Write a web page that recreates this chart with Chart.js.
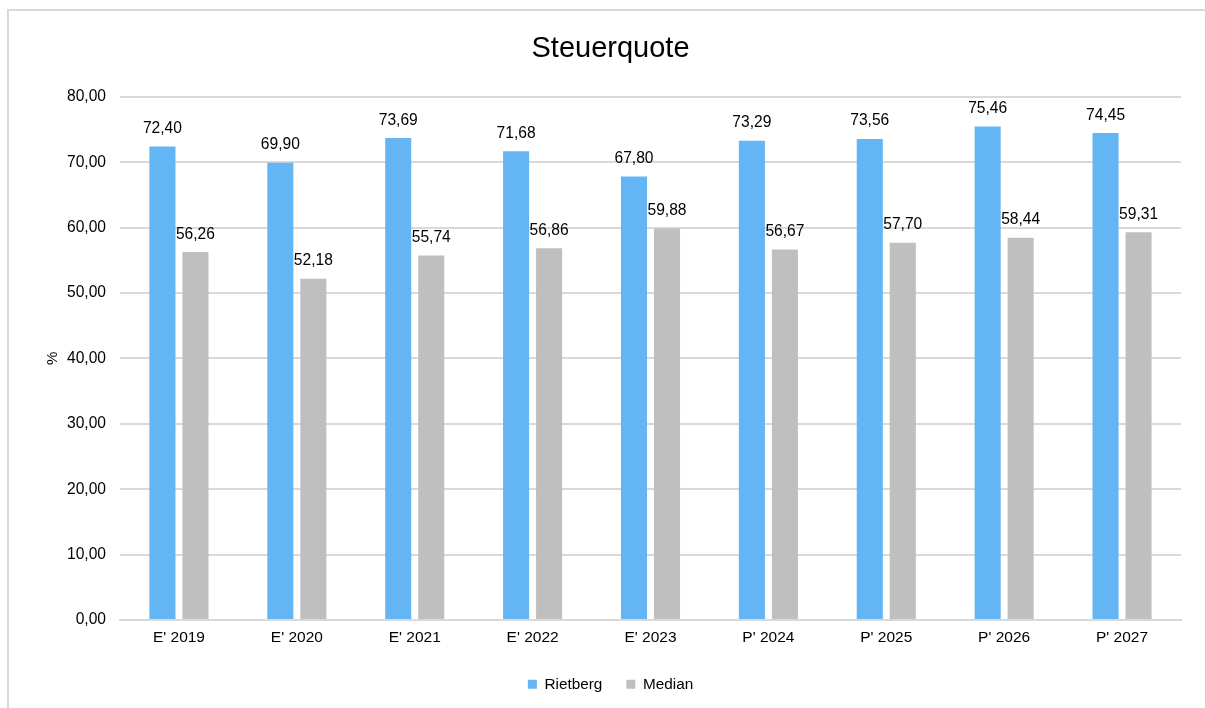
<!DOCTYPE html>
<html>
<head>
<meta charset="utf-8">
<script src="https://cdn.jsdelivr.net/npm/chart.js@4"></script>
<style>
  html, body { margin: 0; padding: 0; background: #fff; overflow: hidden; }
  #frame { position: absolute; left: 7px; top: 9px; width: 1210px; height: 720px; border: 2px solid #d9d9d9; box-sizing: border-box; }
  #wrap { position: absolute; left: 0; top: 0; width: 1205px; height: 708px; }
</style>
</head>
<body>
<div id="frame"></div>
<div id="wrap"><canvas id="barChart"></canvas></div>
<script>
const labels = ["E' 2019", "E' 2020", "E' 2021", "E' 2022", "E' 2023", "P' 2024", "P' 2025", "P' 2026", "P' 2027"];
const rietberg = [72.40, 69.90, 73.69, 71.68, 67.80, 73.29, 73.56, 75.46, 74.45];
const median = [56.26, 52.18, 55.74, 56.86, 59.88, 56.67, 57.70, 58.44, 59.31];

const fmt = v => v.toFixed(2).replace('.', ',');
const font = 'Liberation Sans, Arial, sans-serif';

// writes the value above every bar
const valueLabels = {
    id: 'valueLabels',
    afterDatasetsDraw(chart) {
        const ctx = chart.ctx;
        ctx.save();
        ctx.font = '15.6px ' + font;
        ctx.fillStyle = '#000';
        ctx.textAlign = 'center';
        ctx.textBaseline = 'bottom';
        chart.data.datasets.forEach((ds, i) => {
            chart.getDatasetMeta(i).data.forEach((bar, j) => {
                ctx.fillText(fmt(ds.data[j]), bar.x, bar.y - 10);
            });
        });
        ctx.restore();
    }
};

new Chart(document.getElementById('barChart'), {
    type: 'bar',
    data: {
        labels: labels,
        datasets: [
            { label: 'Rietberg', data: rietberg, backgroundColor: '#63b5f4' },
            { label: 'Median', data: median, backgroundColor: '#bfbfbf' }
        ]
    },
    options: {
        responsive: true,
        maintainAspectRatio: false,
        animation: false,
        categoryPercentage: 0.56,
        barPercentage: 0.79,
        layout: { padding: { left: 40, right: 24, top: 32, bottom: 6 } },
        plugins: {
            title: {
                display: true,
                text: 'Steuerquote',
                color: '#000',
                font: { family: font, size: 29, weight: 'normal' },
                padding: { top: 0, bottom: 30 }
            },
            legend: {
                position: 'bottom',
                labels: {
                    boxWidth: 9,
                    boxHeight: 9,
                    color: '#000',
                    padding: 24,
                    font: { family: font, size: 15.3 }
                }
            },
            tooltip: { enabled: false }
        },
        scales: {
            x: {
                afterFit: s => { s.height += 6; },
                grid: { display: false },
                border: { color: '#d9d9d9', width: 2 },
                ticks: { color: '#000', font: { family: font, size: 15.5 }, padding: 0 }
            },
            y: {
                min: 0,
                max: 80,
                afterFit: s => { s.width = 80; },
                ticks: { stepSize: 10, color: '#000', padding: 14, font: { family: font, size: 15.6 }, callback: v => fmt(v) },
                grid: { color: '#d9d9d9', lineWidth: 2, drawTicks: false },
                border: { display: false },
                title: { display: true, text: '%', color: '#000', font: { family: font, size: 15 } }
            }
        }
    },
    plugins: [valueLabels]
});
</script>
</body>
</html>
